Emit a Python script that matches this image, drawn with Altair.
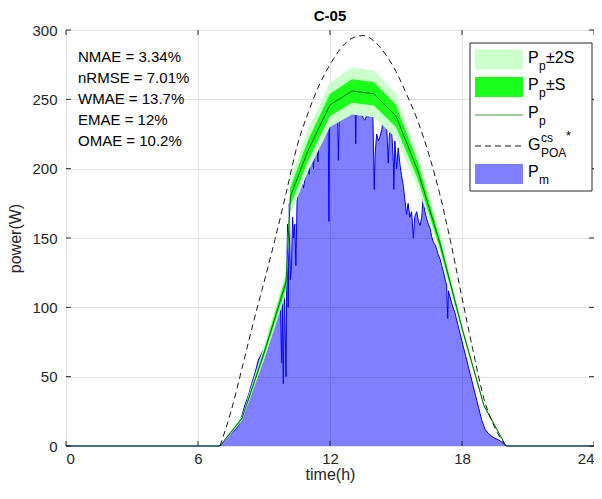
import altair as alt
import pandas as pd

FONT = "Liberation Sans"

# ---------------- data ----------------
X_TICKS = [0, 6, 12, 18, 24]
Y_TICKS = [0, 50, 100, 150, 200, 250, 300]

# Predicted power Pp and its standard deviation S
PP_T = [0, 7.0, 7.25, 8.0, 9.0, 10.0, 10.2, 11.0, 12.0, 13.0, 14.0, 15.0, 16.0, 17.0, 18.0, 19.0, 20.0, 24]
PP_V = [0, 0, 5, 20, 67, 118, 180, 213, 246, 256, 254, 238, 198, 146, 85, 29, 0, 0]
PP_S = [0, 0, 0.3, 0.8, 2.5, 4, 6.5, 7.5, 8, 8.5, 8.5, 8, 6, 3.5, 1.5, 0.7, 0, 0]

# Clear-sky POA irradiance-based power G_POA^cs*
G_T = [7.0, 7.5, 8.0, 8.5, 9.0, 9.5, 10.0, 10.5, 11.0, 11.5, 12.0, 12.5, 13.0, 13.5,
       14.0, 14.5, 15.0, 15.5, 16.0, 16.5, 17.0, 17.5, 18.0, 18.5, 19.0, 19.5, 20.0]
G_V = [0, 25, 56, 88, 118, 149, 182, 216, 240, 260, 275, 287, 294, 296,
       292, 283, 270, 253, 234, 210, 181, 146, 107, 69, 34, 13, 0]

# Measured power Pm
PM_T = [0, 6.9, 7.05, 7.2, 7.38, 7.55, 7.68, 7.85, 7.98, 8.14, 8.3, 8.44, 8.6, 8.74, 8.9,
        9.05, 9.2, 9.35, 9.45, 9.58, 9.7, 9.75, 9.8, 9.83, 9.88, 9.92, 9.95, 10.0, 10.03,
        10.07, 10.1, 10.15, 10.2, 10.25, 10.3, 10.35, 10.4, 10.45, 10.5, 10.55, 10.6, 10.65,
        10.7, 10.8, 10.9, 11.0, 11.05, 11.1, 11.2, 11.25, 11.3, 11.4, 11.45, 11.5, 11.6,
        11.7, 11.8, 11.85, 11.92, 11.95, 11.98, 12.05, 12.15, 12.25, 12.35, 12.38, 12.42,
        12.53, 12.65, 12.75, 12.83, 12.9, 13.0, 13.1, 13.14, 13.17, 13.2, 13.29, 13.35,
        13.44, 13.52, 13.59, 13.67, 13.74, 13.82, 13.89, 13.95, 14.01, 14.05, 14.12, 14.2,
        14.27, 14.35, 14.42, 14.5, 14.58, 14.65, 14.7, 14.8, 14.88, 14.9, 14.95, 15.03,
        15.1, 15.18, 15.25, 15.33, 15.4, 15.48, 15.55, 15.63, 15.71, 15.79, 15.85, 15.94,
        16.02, 16.09, 16.17, 16.24, 16.3, 16.39, 16.47, 16.55, 16.62, 16.7, 16.78, 16.85,
        16.92, 17.0, 17.08, 17.15, 17.22, 17.3, 17.35, 17.38, 17.45, 17.55, 17.68, 17.85,
        17.99, 18.15, 18.29, 18.45, 18.59, 18.75, 18.89, 19.05, 19.2, 19.35, 19.5, 19.65,
        19.8, 19.95, 20.05, 24]
PM_V = [0, 0, 0.5, 4, 8, 10, 11.5, 15, 21, 30, 37, 45, 53, 62, 67,
        72, 79, 86, 88, 93, 98, 100, 60, 105, 45, 115, 95, 50, 120,
        160, 100, 175, 120, 130, 165, 150, 160, 130, 175, 190, 195, 185,
        193, 186, 198, 203, 196, 207, 210, 200, 215, 219, 205, 222, 224,
        228, 232, 233, 230, 162, 232, 235, 236, 234, 237, 206, 236,
        240, 243, 245, 248, 243, 247, 249, 250, 218, 248, 245, 247,
        240, 236, 235, 239, 237, 241, 247, 238, 185, 210, 225, 220,
        223, 228, 235, 243, 230, 204, 225, 228, 205, 185, 220, 200,
        215, 203, 195, 188, 178, 167, 175, 165, 169, 150, 165, 169,
        162, 159, 165, 181, 170, 164, 160, 157, 151, 147, 145, 142,
        138, 135, 130, 126, 121, 116, 92, 112, 108, 102, 96, 85,
        76, 66, 57, 47, 38, 28, 19, 12, 9, 7, 5.5, 4.5,
        3, 0.5, 0, 0]

METRICS = ["NMAE = 3.34%", "nRMSE = 7.01%", "WMAE = 13.7%", "EMAE = 12%", "OMAE = 10.2%"]
TITLE = "C-05"

# ---------------- tables ----------------
pp_df = pd.DataFrame({"t": PP_T, "v": PP_V, "s": PP_S})
pp_df["lo1"] = pp_df["v"] - pp_df["s"]
pp_df["hi1"] = pp_df["v"] + pp_df["s"]
pp_df["lo2"] = pp_df["v"] - 2 * pp_df["s"]
pp_df["hi2"] = pp_df["v"] + 2 * pp_df["s"]
g_df = pd.DataFrame({"t": G_T, "v": G_V})
pm_df = pd.DataFrame({"t": PM_T, "v": PM_V})
xt_df = pd.DataFrame({"t": X_TICKS})
yt_df = pd.DataFrame({"v": Y_TICKS})
one = pd.DataFrame({"a": [0]})

W, H = 528, 416
DARK = "#262626"

XAXIS = alt.Axis(values=X_TICKS, title="time(h)", grid=True, gridColor="#e3e3e3",
                 ticks=False, domain=False, labelFontSize=15, titleFontSize=16,
                 labelPadding=5, titlePadding=0, labelColor=DARK, titleColor=DARK,
                 titleFontWeight="normal", format="d", labelFont=FONT, titleFont=FONT)
YAXIS = alt.Axis(values=Y_TICKS, title="power(W)", grid=True, gridColor="#e3e3e3",
                 ticks=False, domain=False, labelFontSize=15, titleFontSize=16,
                 labelPadding=9, titlePadding=8, labelColor=DARK, titleColor=DARK,
                 titleFontWeight="normal", format="d", labelFont=FONT, titleFont=FONT)
XS = alt.Scale(domain=[0, 24], nice=False)
YS = alt.Scale(domain=[0, 300], nice=False)


def X(f="t"):
    return alt.X(f"{f}:Q", scale=XS, axis=XAXIS)


def Y(f="v"):
    return alt.Y(f"{f}:Q", scale=YS, axis=YAXIS)


layers = []

# measured power
layers.append(alt.Chart(pm_df).mark_area(color="#0000ff", opacity=0.5, interpolate="linear")
              .encode(x=X(), y=Y()))
layers.append(alt.Chart(pm_df).mark_line(color="#0000ff", strokeWidth=1)
              .encode(x=X(), y=Y()))
# bands
layers.append(alt.Chart(pp_df).mark_area(color="#ccffcc", opacity=1)
              .encode(x=X(), y=Y("lo2"), y2="hi2:Q"))
layers.append(alt.Chart(pp_df).mark_area(color="#1aff1a", opacity=1)
              .encode(x=X(), y=Y("lo1"), y2="hi1:Q"))
layers.append(alt.Chart(pp_df).mark_line(color="#0a6a0a", strokeWidth=1)
              .encode(x=X(), y=Y()))
# clear-sky
layers.append(alt.Chart(g_df).mark_line(color="#1a1a1a", strokeWidth=1, strokeDash=[6, 4],
                                        interpolate="monotone")
              .encode(x=X(), y=Y()))

# inward ticks (box style)
layers.append(alt.Chart(xt_df).mark_rule(color=DARK, strokeWidth=1)
              .encode(x=X(), y=alt.value(H), y2=alt.value(H - 5)))
layers.append(alt.Chart(xt_df).mark_rule(color=DARK, strokeWidth=1)
              .encode(x=X(), y=alt.value(0), y2=alt.value(5)))
layers.append(alt.Chart(yt_df).mark_rule(color=DARK, strokeWidth=1)
              .encode(y=Y(), x=alt.value(0), x2=alt.value(5)))
layers.append(alt.Chart(yt_df).mark_rule(color=DARK, strokeWidth=1)
              .encode(y=Y(), x=alt.value(W), x2=alt.value(W - 5)))

# title as text mark
layers.append(alt.Chart(one).mark_text(text=TITLE, align="center", baseline="middle",
                                       fontSize=15, fontWeight="bold", font=FONT, color="#000")
              .encode(x=alt.value(W / 2), y=alt.value(-14)))

# metrics text
for i, s in enumerate(METRICS):
    layers.append(alt.Chart(one).mark_text(text=s, align="left", baseline="middle",
                                           fontSize=15, font=FONT, color="#000")
                  .encode(x=alt.value(12), y=alt.value(27 + 21 * i)))

# legend
LX0, LX1, LY0, LY1 = 404, 526, 13, 161
SX0, SX1 = 409, 457
TX = 462
layers.append(alt.Chart(one).mark_rect(fill="white", stroke=DARK, strokeWidth=1)
              .encode(x=alt.value(LX0), x2=alt.value(LX1), y=alt.value(LY0), y2=alt.value(LY1)))
rows = [29.5, 57, 85, 116, 144]
layers.append(alt.Chart(one).mark_rect(fill="#ccffcc")
              .encode(x=alt.value(SX0), x2=alt.value(SX1), y=alt.value(rows[0] - 10), y2=alt.value(rows[0] + 10)))
layers.append(alt.Chart(one).mark_rect(fill="#1aff1a")
              .encode(x=alt.value(SX0), x2=alt.value(SX1), y=alt.value(rows[1] - 10), y2=alt.value(rows[1] + 10)))
layers.append(alt.Chart(one).mark_rule(color="#3a9a3a", strokeWidth=1)
              .encode(x=alt.value(SX0), x2=alt.value(SX1), y=alt.value(rows[2])))
layers.append(alt.Chart(one).mark_rule(color="#1a1a1a", strokeWidth=1, strokeDash=[6, 4])
              .encode(x=alt.value(SX0), x2=alt.value(SX1), y=alt.value(rows[3])))
layers.append(alt.Chart(one).mark_rect(fill="#0000ff", opacity=0.5)
              .encode(x=alt.value(SX0), x2=alt.value(SX1), y=alt.value(rows[4] - 10), y2=alt.value(rows[4] + 10)))


def txt(s, x, y, size=16):
    return (alt.Chart(one).mark_text(text=s, align="left", baseline="middle",
                                     fontSize=size, font=FONT, color="#000")
            .encode(x=alt.value(x), y=alt.value(y)))


for r, tail in [(rows[0], "\u00b12S"), (rows[1], "\u00b1S"), (rows[2], "")]:
    layers.append(txt("P", TX, r - 2))
    layers.append(txt("p", TX + 11, r + 6, 12))
    if tail:
        layers.append(txt(tail, TX + 18, r - 2))
r = rows[3]
layers.append(txt("G", TX, r - 1))
layers.append(txt("cs", TX + 13, r - 8, 12))
layers.append(txt("POA", TX + 13, r + 7, 12))
layers.append(txt("*", TX + 38, r - 10, 13))
r = rows[4]
layers.append(txt("P", TX, r - 2))
layers.append(txt("m", TX + 11, r + 6, 12))

chart = (alt.layer(*layers)
         .properties(width=W, height=H,
                     autosize=alt.AutoSizeParams(type="none"),
                     padding={"left": 58, "top": 22, "right": 0, "bottom": 37})
         .configure_view(stroke=DARK, strokeWidth=1)
         .configure(font=FONT))

chart.save("out.html", embed_options={"renderer": "svg", "actions": False})
